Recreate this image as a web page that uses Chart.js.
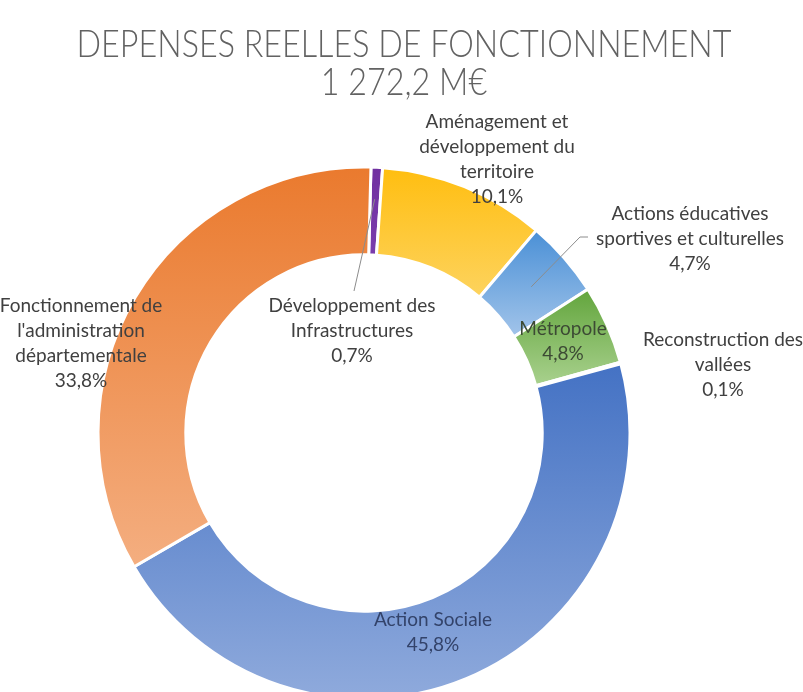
<!DOCTYPE html>
<html lang="fr">
<head>
<meta charset="UTF-8">
<title>Dépenses réelles de fonctionnement</title>
<script src="https://cdn.jsdelivr.net/npm/chart.js"></script>
<style>
  html, body { margin: 0; padding: 0; background: #fff; }
  #wrap { position: relative; width: 803px; height: 692px; overflow: hidden; }
  #wrap canvas { position: absolute; left: 0; top: 0; }
  .title { position: absolute; left: 0; width: 808px; text-align: center; font-family: Lato, 'Open Sans', sans-serif; font-weight: 300; color: #626262; font-size: 38px; white-space: nowrap; transform: scaleX(0.85); transform-origin: 404px 50%; }
</style>
</head>
<body>
<div id="wrap">
  <canvas id="donut"></canvas>
  <div class="title" style="top: 19px;">DEPENSES REELLES DE FONCTIONNEMENT</div>
  <div class="title" style="top: 57px;">1 272,2 M€</div>
</div>
<script>
// categories in drawing order, clockwise from the top
const categories = [
    ['Développement des', 'Infrastructures'],
    ['Aménagement et', 'développement du', 'territoire'],
    ['Actions éducatives', 'sportives et culturelles'],
    ['Métropole'],
    ['Reconstruction des', 'vallées'],
    ['Action Sociale'],
    ['Fonctionnement de', "l'administration", 'départementale']
];
const shares = [0.7, 10.1, 4.7, 4.8, 0.1, 45.8, 33.8];

// gradient colours (top -> bottom of each slice)
const colorsTop = ['#7030A0', '#FFBE10', '#4A90D6', '#62A53C', '#A5A5A5', '#4472C4', '#EA7A2E'];
const colorsBottom = ['#7A3CAC', '#FDD35E', '#A2C4EA', '#A9D18E', '#C0C0C0', '#8FAADC', '#F4AE80'];

// label anchors relative to the doughnut centre, and text colours
const labelOffsets = [[-12, -127], [133, -311], [326, -219], [199, -104], [359, -93], [69, 187], [-283, -127]];
const labelColors = ['#404040', '#404040', '#404040', '#3c4a34', '#404040', '#33436a', '#404040'];
const lineHeight = 25;

const gradientFill = {
    id: 'gradientFill',
    beforeDatasetsDraw(chart) {
        const ctx = chart.ctx;
        chart.getDatasetMeta(0).data.forEach((arc, i) => {
            let ymin = Infinity, ymax = -Infinity;
            for (let k = 0; k <= 40; k++) {
                const a = arc.startAngle + (arc.endAngle - arc.startAngle) * k / 40;
                [arc.innerRadius, arc.outerRadius].forEach(r => {
                    const y = arc.y + r * Math.sin(a);
                    ymin = Math.min(ymin, y);
                    ymax = Math.max(ymax, y);
                });
            }
            const g = ctx.createLinearGradient(0, ymin, 0, ymax);
            g.addColorStop(0, colorsTop[i]);
            g.addColorStop(1, colorsBottom[i]);
            arc.options = Object.assign({}, arc.options, { backgroundColor: g });
        });
    }
};

function pct(v) {
    return v.toFixed(1).replace('.', ',') + '%';
}

const sliceLabels = {
    id: 'sliceLabels',
    afterDatasetsDraw(chart) {
        const ctx = chart.ctx;
        const arcs = chart.getDatasetMeta(0).data;
        const cx = arcs[0].x, cy = arcs[0].y;

        // leader lines for the two thin slices
        ctx.save();
        ctx.strokeStyle = '#8c8c8c';
        ctx.lineWidth = 1;
        const midPoint = (arc) => {
            const a = (arc.startAngle + arc.endAngle) / 2;
            const r = (arc.innerRadius + arc.outerRadius) / 2;
            return [arc.x + r * Math.cos(a), arc.y + r * Math.sin(a)];
        };
        let p = midPoint(arcs[0]);
        ctx.beginPath();
        ctx.moveTo(p[0], p[1] - 12);
        ctx.lineTo(cx + labelOffsets[0][0] + 2, cy + labelOffsets[0][1] - 15);
        ctx.stroke();
        p = midPoint(arcs[2]);
        ctx.beginPath();
        ctx.moveTo(p[0], p[1]);
        ctx.lineTo(cx + labelOffsets[2][0] - 110, cy + labelOffsets[2][1] + 23);
        ctx.lineTo(cx + labelOffsets[2][0] - 102, cy + labelOffsets[2][1] + 23);
        ctx.stroke();
        ctx.restore();

        ctx.save();
        ctx.font = '19px Lato, "Open Sans", sans-serif';
        ctx.textAlign = 'center';
        ctx.textBaseline = 'middle';
        categories.forEach((lines, i) => {
            const x = cx + labelOffsets[i][0];
            const y = cy + labelOffsets[i][1];
            ctx.fillStyle = labelColors[i];
            lines.concat([pct(shares[i])]).forEach((t, j) => {
                ctx.fillText(t, x, y + j * lineHeight);
            });
        });
        ctx.restore();
    }
};

window.onload = function() {
    new Chart(document.getElementById('donut'), {
        type: 'doughnut',
        data: {
            labels: categories,
            datasets: [{
                data: shares,
                backgroundColor: colorsTop,
                borderColor: '#ffffff',
                borderWidth: 3,
                clip: false
            }]
        },
        options: {
            responsive: true,
            maintainAspectRatio: false,
            animation: false,
            events: [],
            rotation: 1.5,
            cutout: '67%',
            radius: 266,
            layout: { padding: { left: 0, right: 75, top: 174, bottom: 0 } },
            plugins: {
                legend: { display: false },
                tooltip: { enabled: false }
            }
        },
        plugins: [gradientFill, sliceLabels]
    });
};
</script>
</body>
</html>
